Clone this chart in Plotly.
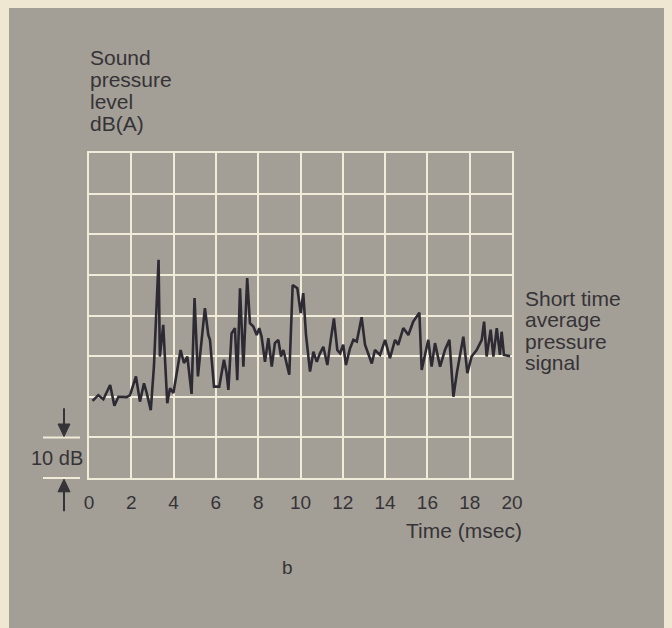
import plotly.graph_objects as go

# Time (msec) and short-time average sound pressure level (dB, relative, 10 dB per grid row)
time_ms = [0.17, 0.44, 0.68, 1.0, 1.2, 1.39, 1.78, 1.94, 2.22, 2.41, 2.6, 2.73, 2.92, 3.07,
           3.29, 3.35, 3.51, 3.70, 3.83, 3.99, 4.33, 4.49, 4.65, 4.85, 4.99, 5.15, 5.48, 5.64,
           5.72, 5.91, 6.16, 6.38, 6.5, 6.59, 6.74, 6.90, 7.01, 7.14, 7.30, 7.48, 7.61, 7.77,
           7.93, 8.05, 8.16, 8.32, 8.48, 8.64, 8.79, 8.95, 9.08, 9.19, 9.47, 9.63, 9.85, 10.01,
           10.13, 10.26, 10.45, 10.61, 10.77, 10.92, 11.08, 11.27, 11.43, 11.58, 11.74, 11.87,
           12.02, 12.15, 12.34, 12.50, 12.66, 12.89, 13.05, 13.37, 13.52, 13.76, 14.0, 14.23,
           14.47, 14.62, 14.86, 15.1, 15.33, 15.62, 15.73, 15.89, 16.04, 16.2, 16.36, 16.6,
           16.83, 17.04, 17.23, 17.39, 17.70, 17.89, 18.09, 18.33, 18.57, 18.68, 18.80, 18.99,
           19.12, 19.28, 19.43, 19.51, 19.62, 19.91]
level_db = [19.0, 20.4, 19.4, 22.9, 17.8, 20.0, 19.9, 20.4, 25.0, 18.8, 23.3, 20.9, 16.7, 27.4,
            53.7, 29.9, 37.7, 18.4, 22.1, 20.9, 31.5, 28.3, 29.9, 20.7, 44.3, 25.0, 41.8, 35.2,
            34.0, 22.5, 22.5, 29.1, 26.0, 21.7, 35.6, 36.9, 24.1, 46.7, 27.4, 49.2, 38.1, 37.3,
            35.2, 36.9, 34.8, 28.6, 34.4, 27.4, 33.2, 34.0, 29.9, 31.5, 25.4, 47.5, 46.7, 40.6,
            45.5, 35.2, 26.2, 31.1, 28.6, 30.7, 32.3, 27.8, 34.0, 39.3, 31.5, 30.7,
            32.8, 27.8, 31.9, 34.0, 33.6, 39.6, 32.8, 28.2, 31.5, 30.3, 34.0, 29.5,
            34.0, 32.8, 36.9, 35.2, 38.5, 40.7, 26.6, 30.7, 34.0, 27.4, 33.2, 27.4,
            31.5, 34.0, 20.0, 25.8, 34.8, 25.8, 29.9, 31.5, 34.0, 38.5, 29.9, 36.5,
            29.9, 36.9, 30.3, 36.0, 30.3, 30.0]
x_ticks = [0, 2, 4, 6, 8, 10, 12, 14, 16, 18, 20]
x_tick_labels = ["0", "2", "4", "6", "8", "10", "12", "14", "16", "18", "20"]
y_title_lines = ["Sound", "pressure", "level", "dB(A)"]
signal_label_lines = ["Short time", "average", "pressure", "signal"]
scale_step_db = 10
y_max_db = 80

PANEL = "#a39f96"
CREAM = "#efe7d2"
GRID = "#f1ecda"
INK = "#363338"
FONT = "Liberation Sans, Arial, sans-serif"

fig = go.Figure()
fig.add_trace(go.Scatter(x=time_ms, y=level_db, mode="lines",
                         line=dict(color="#2e2a33", width=2.6), hoverinfo="skip"))

fig.update_layout(
    width=672, height=628,
    margin=dict(l=89, r=160, t=153, b=150),
    paper_bgcolor=CREAM, plot_bgcolor=PANEL,
    showlegend=False,
    font=dict(family=FONT, color=INK, size=16),
    xaxis=dict(range=[0, 20], tickvals=x_ticks, ticktext=x_tick_labels,
               showgrid=True, gridcolor=GRID, gridwidth=2,
               showline=True, linecolor=GRID, linewidth=2, mirror=True,
               zeroline=False, ticks="outside", ticklen=6, tickcolor="rgba(0,0,0,0)",
               tickfont=dict(size=19, color=INK, family=FONT), fixedrange=True),
    yaxis=dict(range=[0, y_max_db], dtick=scale_step_db, showticklabels=False,
               showgrid=True, gridcolor=GRID, gridwidth=2,
               showline=True, linecolor=GRID, linewidth=2, mirror=True,
               zeroline=False, ticks="", fixedrange=True),
)

# gray panel
fig.add_shape(type="rect", xref="paper", yref="paper",
              x0=(9 - 89) / 423, x1=(664 - 89) / 423, y0=-0.5, y1=(478 - 8) / 325,
              fillcolor=PANEL, line=dict(width=0), layer="below")

# 10 dB scale bracket (paper coordinates derived from the dB scale)
def yp(db):
    return db / y_max_db

def px_x(px):
    return (px - 89) / 423

def px_y(py):
    return (478 - py) / 325

bx0, bx1 = px_x(43), px_x(80)
ax = px_x(64)
hw = 6 / 423
for yv in (0, scale_step_db):
    fig.add_shape(type="line", xref="paper", yref="paper", x0=bx0, x1=bx1, y0=yp(yv), y1=yp(yv),
                  line=dict(color=GRID, width=2))
# down arrow above
fig.add_shape(type="line", xref="paper", yref="paper", x0=ax, x1=ax, y0=yp(17.2), y1=yp(12),
              line=dict(color=INK, width=2))
fig.add_shape(type="path", xref="paper", yref="paper",
              path=f"M {ax-hw} {yp(13.3)} L {ax+hw} {yp(13.3)} L {ax} {yp(10.2)} Z",
              fillcolor=INK, line=dict(color=INK, width=1))
# up arrow below
fig.add_shape(type="line", xref="paper", yref="paper", x0=ax, x1=ax, y0=yp(-8.2), y1=yp(-2),
              line=dict(color=INK, width=2))
fig.add_shape(type="path", xref="paper", yref="paper",
              path=f"M {ax-hw} {yp(-3.4)} L {ax+hw} {yp(-3.4)} L {ax} {yp(-0.3)} Z",
              fillcolor=INK, line=dict(color=INK, width=1))
fig.add_annotation(xref="paper", yref="paper", x=px_x(57), xanchor="center",
                   y=yp(scale_step_db / 2), yanchor="middle",
                   text="10 dB", showarrow=False, font=dict(size=20, color=INK, family=FONT))

for i, line in enumerate(y_title_lines):
    fig.add_annotation(xref="paper", yref="paper", x=px_x(88), xanchor="left",
                       y=px_y(57 + 22 * i), yanchor="middle", align="left",
                       text=line, showarrow=False,
                       font=dict(size=21, color=INK, family=FONT))
for i, line in enumerate(signal_label_lines):
    fig.add_annotation(xref="paper", yref="paper", x=px_x(523), xanchor="left",
                       y=px_y(298 + 21.5 * i), yanchor="middle", align="left",
                       text=line, showarrow=False,
                       font=dict(size=21, color=INK, family=FONT))
fig.add_annotation(xref="paper", yref="paper", x=px_x(524), xanchor="right",
                   y=px_y(530), yanchor="middle",
                   text="Time (msec)", showarrow=False,
                   font=dict(size=21, color=INK, family=FONT))
fig.add_annotation(xref="paper", yref="paper", x=px_x(287), xanchor="center",
                   y=px_y(567), yanchor="middle",
                   text="b", showarrow=False,
                   font=dict(size=19, color=INK, family=FONT))

fig.write_html("out.html", config={"displayModeBar": False},
               post_script="document.body.style.margin='0';document.body.style.background='%s';" % CREAM)
